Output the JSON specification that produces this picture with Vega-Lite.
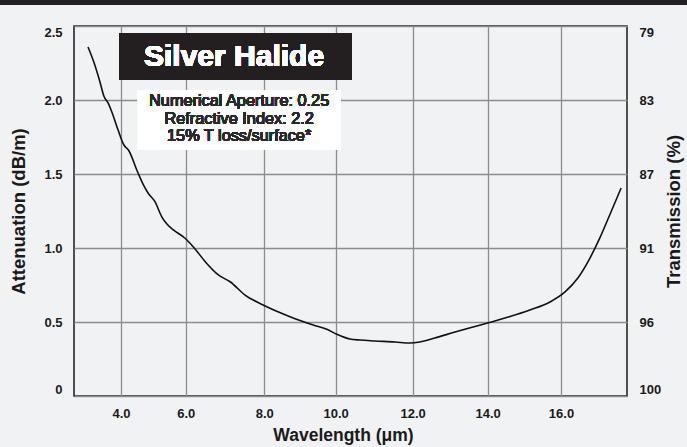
{
  "$schema": "https://vega.github.io/schema/vega-lite/v6.json",
  "width": 553,
  "height": 370,
  "autosize": {"type": "none"},
  "padding": {"left": 74, "top": 26, "right": 60, "bottom": 51},
  "background": "#f1f2f4",
  "config": {
    "font": "Liberation Sans",
    "view": {"stroke": "#1a1a1a", "strokeWidth": 1.5},
    "axis": {
      "labelFont": "Liberation Sans", "labelFontWeight": "bold", "labelFontSize": 13, "labelColor": "#1a1a1a",
      "titleFont": "Liberation Sans", "titleFontWeight": "bold", "titleFontSize": 18.5, "titleColor": "#1a1a1a",
      "domain": false, "ticks": false, "gridColor": "#8c8c8c", "gridWidth": 1.3, "gridOpacity": 1
    }
  },
  "data": {"values": [
    {"wavelength": 2.98, "attenuation": 2.358},
    {"wavelength": 3.17, "attenuation": 2.250},
    {"wavelength": 3.35, "attenuation": 2.122},
    {"wavelength": 3.47, "attenuation": 2.027},
    {"wavelength": 3.60, "attenuation": 1.980},
    {"wavelength": 3.75, "attenuation": 1.899},
    {"wavelength": 3.91, "attenuation": 1.797},
    {"wavelength": 4.09, "attenuation": 1.696},
    {"wavelength": 4.23, "attenuation": 1.662},
    {"wavelength": 4.53, "attenuation": 1.505},
    {"wavelength": 4.71, "attenuation": 1.419},
    {"wavelength": 4.84, "attenuation": 1.370},
    {"wavelength": 5.05, "attenuation": 1.313},
    {"wavelength": 5.26, "attenuation": 1.211},
    {"wavelength": 5.42, "attenuation": 1.162},
    {"wavelength": 5.62, "attenuation": 1.122},
    {"wavelength": 5.98, "attenuation": 1.066},
    {"wavelength": 6.19, "attenuation": 1.009},
    {"wavelength": 6.53, "attenuation": 0.897},
    {"wavelength": 6.83, "attenuation": 0.818},
    {"wavelength": 7.13, "attenuation": 0.772},
    {"wavelength": 7.51, "attenuation": 0.682},
    {"wavelength": 7.97, "attenuation": 0.615},
    {"wavelength": 8.72, "attenuation": 0.536},
    {"wavelength": 9.37, "attenuation": 0.480},
    {"wavelength": 9.75, "attenuation": 0.451},
    {"wavelength": 10.03, "attenuation": 0.417},
    {"wavelength": 10.37, "attenuation": 0.385},
    {"wavelength": 10.63, "attenuation": 0.378},
    {"wavelength": 11.02, "attenuation": 0.372},
    {"wavelength": 11.54, "attenuation": 0.365},
    {"wavelength": 11.93, "attenuation": 0.358},
    {"wavelength": 12.19, "attenuation": 0.365},
    {"wavelength": 12.59, "attenuation": 0.392},
    {"wavelength": 13.13, "attenuation": 0.432},
    {"wavelength": 13.81, "attenuation": 0.480},
    {"wavelength": 14.47, "attenuation": 0.527},
    {"wavelength": 15.15, "attenuation": 0.581},
    {"wavelength": 15.70, "attenuation": 0.635},
    {"wavelength": 16.11, "attenuation": 0.703},
    {"wavelength": 16.46, "attenuation": 0.797},
    {"wavelength": 16.79, "attenuation": 0.932},
    {"wavelength": 17.06, "attenuation": 1.068},
    {"wavelength": 17.34, "attenuation": 1.230},
    {"wavelength": 17.64, "attenuation": 1.405}
  ]},
  "resolve": {"axis": {"y": "independent"}},
  "layer": [
    {
      "mark": {"type": "line", "color": "#111111", "strokeWidth": 1.6, "interpolate": "monotone"},
      "encoding": {
        "x": {
          "field": "wavelength", "type": "quantitative",
          "scale": {"domain": [2.547, 4, 6, 8, 10, 12, 14, 16, 17.8], "range": [0, 47, 111.7, 190.3, 261.7, 338.7, 413.7, 487, 553], "nice": false, "zero": false},
          "axis": {"values": [4, 6, 8, 10, 12, 14, 16], "format": ".1f", "grid": true, "labelPadding": 11, "title": "Wavelength (μm)", "titleFontSize": 17.5, "titlePadding": 6, "titleX": 269}
        },
        "y": {
          "field": "attenuation", "type": "quantitative",
          "scale": {"domain": [0, 2.5], "nice": false, "zero": false},
          "axis": {"orient": "left", "values": [0, 0.5, 1, 1.5, 2, 2.5], "labelExpr": "datum.value == 0 ? '0' : format(datum.value, '.1f')", "labelFlush": true, "grid": true, "labelPadding": 12, "title": "Attenuation (dB/m)", "titlePadding": 15}
        }
      }
    },
    {
      "mark": {"type": "line", "opacity": 0},
      "encoding": {
        "x": {"field": "wavelength", "type": "quantitative"},
        "y": {
          "field": "attenuation", "type": "quantitative",
          "axis": {"orient": "right", "values": [0, 0.5, 1, 1.5, 2, 2.5], "labelExpr": "['100','96','91','87','83','79'][round(datum.value * 2)]", "labelFlush": true, "grid": false, "labelPadding": 12, "title": "Transmission (%)", "titleAngle": 270, "titleBaseline": "top", "titlePadding": 4}
        }
      }
    },
    {
      "mark": {"type": "rect", "color": "#231f20", "clip": false},
      "encoding": {
        "x": {"datum": 0, "type": "quantitative"},
        "x2": {"datum": 20},
        "y": {"datum": 2.645, "type": "quantitative", "axis": null},
        "y2": {"datum": 2.72}
      }
    },
    {
      "mark": {"type": "rect", "color": "#231f20"},
      "encoding": {
        "x": {"datum": 3.95, "type": "quantitative"},
        "x2": {"datum": 10.42},
        "y": {"datum": 2.135, "type": "quantitative", "axis": null},
        "y2": {"datum": 2.45}
      }
    },
    {
      "mark": {"type": "rect", "color": "#ffffff"},
      "encoding": {
        "x": {"datum": 4.52, "type": "quantitative"},
        "x2": {"datum": 10.13},
        "y": {"datum": 1.662, "type": "quantitative", "axis": null},
        "y2": {"datum": 2.068}
      }
    },
    {
      "mark": {"type": "text", "color": "#ffffff", "font": "Liberation Sans", "fontWeight": "bold", "fontSize": 30, "align": "center", "baseline": "middle"},
      "encoding": {
        "x": {"datum": 7.23, "type": "quantitative"},
        "y": {"datum": 2.29, "type": "quantitative", "axis": null},
        "text": {"value": "Silver Halide"}
      }
    },
    {
      "mark": {"type": "text", "color": "#2a2a2a", "font": "Liberation Sans", "fontWeight": "normal", "fontSize": 16.3, "align": "center", "baseline": "middle", "lineHeight": 17.5},
      "encoding": {
        "x": {"datum": 7.36, "type": "quantitative"},
        "y": {"datum": 1.993, "type": "quantitative", "axis": null},
        "text": {"value": ["Numerical Aperture: 0.25", "Refractive Index: 2.2", "15% T loss/surface*"]}
      }
    }
  ]
}
